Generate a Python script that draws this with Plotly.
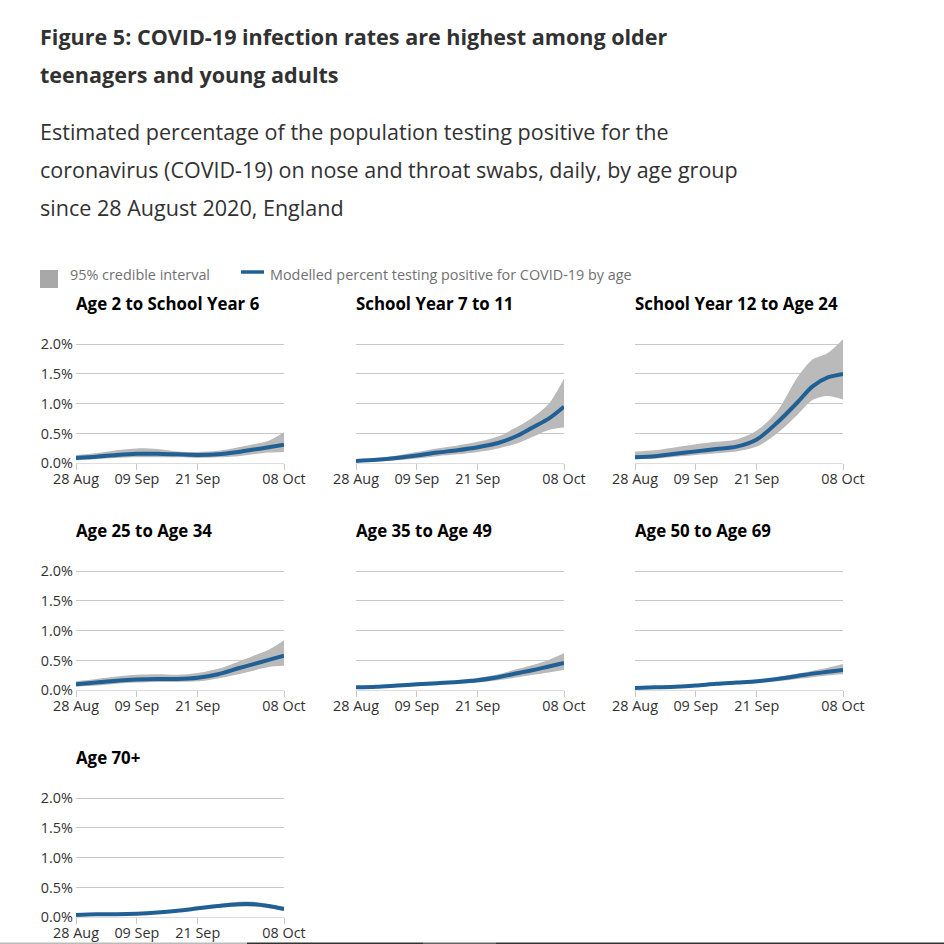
import plotly.graph_objects as go

dates = ["2020-08-28","2020-09-01","2020-09-05","2020-09-09","2020-09-13","2020-09-17",
         "2020-09-21","2020-09-25","2020-09-29","2020-10-02","2020-10-05","2020-10-08"]
panel_titles = ["Age 2 to School Year 6","School Year 7 to 11","School Year 12 to Age 24",
                "Age 25 to Age 34","Age 35 to Age 49","Age 50 to Age 69","Age 70+"]
mean_1 = [.09,.11,.14,.16,.16,.15,.14,.15,.19,.23,.27,.31]
upper_1 = [.14,.17,.22,.25,.24,.20,.19,.21,.27,.32,.38,.52]
lower_1 = [.05,.07,.09,.10,.10,.10,.09,.10,.12,.15,.18,.19]
mean_2 = [.04,.06,.09,.13,.18,.22,.27,.34,.47,.61,.75,.95]
upper_2 = [.05,.08,.13,.19,.25,.30,.36,.45,.62,.78,1.0,1.42]
lower_2 = [.02,.03,.05,.08,.12,.15,.19,.25,.34,.45,.56,.60]
mean_3 = [.10,.12,.16,.20,.24,.28,.40,.68,1.02,1.29,1.44,1.50]
upper_3 = [.20,.22,.27,.32,.36,.40,.55,.87,1.44,1.74,1.85,2.08]
lower_3 = [.07,.08,.11,.14,.17,.20,.28,.50,.81,1.06,1.13,1.07]
mean_4 = [.10,.13,.16,.18,.19,.19,.21,.27,.37,.44,.51,.58]
upper_4 = [.15,.19,.23,.26,.27,.26,.29,.36,.48,.58,.68,.84]
lower_4 = [.06,.08,.11,.13,.14,.14,.15,.20,.27,.33,.39,.41]
mean_5 = [.05,.06,.08,.10,.12,.14,.17,.22,.29,.34,.40,.46]
upper_5 = [.06,.07,.09,.12,.14,.17,.21,.27,.36,.43,.51,.62]
lower_5 = [.03,.04,.05,.07,.09,.11,.13,.17,.22,.26,.30,.34]
mean_6 = [.04,.05,.06,.08,.11,.13,.15,.19,.24,.28,.31,.34]
upper_6 = [.05,.06,.07,.09,.12,.15,.17,.22,.28,.33,.38,.44]
lower_6 = [.02,.03,.04,.06,.08,.10,.12,.15,.19,.22,.25,.27]
mean_7 = [.04,.05,.05,.06,.08,.11,.15,.19,.22,.22,.19,.14]
upper_7 = [.05,.06,.06,.07,.09,.12,.17,.22,.26,.26,.22,.18]
lower_7 = [.02,.03,.04,.05,.07,.09,.12,.16,.18,.18,.15,.11]
x_tick_vals = ["2020-08-28","2020-09-09","2020-09-21","2020-10-08"]
x_tick_text = ["28 Aug","09 Sep","21 Sep","08 Oct"]
y_tick_vals = [0,.5,1,1.5,2]
y_tick_text = ["0.0%","0.5%","1.0%","1.5%","2.0%"]
means = [mean_1,mean_2,mean_3,mean_4,mean_5,mean_6,mean_7]
uppers = [upper_1,upper_2,upper_3,upper_4,upper_5,upper_6,upper_7]
lowers = [lower_1,lower_2,lower_3,lower_4,lower_5,lower_6,lower_7]

W = H = 944
FONT = "Open Sans"
BLUE = "#206095"
GREY = "#bababa"
lefts = [76, 356, 635]
bottoms = [463.3, 690.3, 917.3]
PW, PPCT = 208, 59.6
YMAX = 2.1
SMOOTH = 0.85

fig = go.Figure()
layout = {}
ann = []
def text(x, y, s, size, color, bold=False):
    ann.append(dict(xref="paper", yref="paper", x=x/W, y=1-y/H, text=f"<b>{s}</b>" if bold else s,
                    showarrow=False, xanchor="left", yanchor="middle", align="left", xshift=-2,
                    font=dict(family=FONT, size=size, color=color)))

for i in range(7):
    r, c = i // 3, i % 3
    k = "" if i == 0 else str(i + 1)
    x0, y0 = lefts[c], bottoms[r]
    fig.add_trace(go.Scatter(x=dates, y=lowers[i], xaxis="x"+k, yaxis="y"+k, mode="lines",
                             line=dict(width=0, shape="spline", smoothing=SMOOTH, color=GREY), showlegend=False,
                             hoverinfo="skip", cliponaxis=False))
    fig.add_trace(go.Scatter(x=dates, y=uppers[i], xaxis="x"+k, yaxis="y"+k, mode="lines", fill="tonexty",
                             fillcolor=GREY, line=dict(width=0, shape="spline", smoothing=SMOOTH, color=GREY),
                             name="95% credible interval", showlegend=False, cliponaxis=False))
    fig.add_trace(go.Scatter(x=dates, y=means[i], xaxis="x"+k, yaxis="y"+k, mode="lines",
                             line=dict(width=4, shape="spline", smoothing=SMOOTH, color=BLUE),
                             name="Modelled percent testing positive for COVID-19 by age",
                             showlegend=False, cliponaxis=False))
    layout["xaxis"+k] = dict(domain=[x0/W, (x0+PW)/W], anchor="y"+k, range=["2020-08-28","2020-10-08"],
                             type="date", tickmode="array", tickvals=x_tick_vals, ticktext=x_tick_text,
                             ticks="outside", ticklen=6, tickcolor="#c8c8c8", showgrid=False, automargin=False,
                             showline=True, linecolor="#dddddd", linewidth=1, zeroline=False,
                             ticklabelstandoff=-4,
                             tickangle=0, tickfont=dict(family=FONT, size=14.4, color="#323132"))
    layout["yaxis"+k] = dict(domain=[1-y0/H, 1-(y0-PPCT*YMAX)/H], anchor="x"+k, range=[0, YMAX],
                             tickmode="array", tickvals=y_tick_vals, automargin=False,
                             ticktext=y_tick_text if c == 0 else [""]*5,
                             showgrid=True, gridcolor="#c8c8c8", gridwidth=1, zeroline=False, showline=False,
                             ticks="", ticklen=0, ticklabelstandoff=2,
                             tickfont=dict(family=FONT, size=14.4, color="#323132"))
    text(x0, y0-159.5, panel_titles[i], 16.85, "#000000", True)

text(40, 37, "Figure 5: COVID-19 infection rates are highest among older", 21.55, "#323132", True)
text(40, 75, "teenagers and young adults", 21.55, "#323132", True)
text(40, 132, "Estimated percentage of the population testing positive for the", 21.55, "#323132")
text(40, 170, "coronavirus (COVID-19) on nose and throat swabs, daily, by age group", 21.5, "#323132")
text(40, 208, "since 28 August 2020, England", 21.55, "#323132")
text(70, 274, "95% credible interval", 14.4, "#707071")
text(270, 274, "Modelled percent testing positive for COVID-19 by age", 14.4, "#707071")

def bar(x0, x1, color):
    return dict(type="line", xref="paper", yref="paper", x0=x0/W, x1=x1/W, y0=0.7/H, y1=0.7/H,
                line=dict(color=color, width=1.5))
shapes = [
    dict(type="rect", xref="paper", yref="paper", x0=40/W, x1=58/W, y0=1-288/H, y1=1-270/H,
         fillcolor="#a8a8a8", line_width=0),
    dict(type="line", xref="paper", yref="paper", x0=241/W, x1=264/W, y0=1-272/H, y1=1-272/H,
         line=dict(color=BLUE, width=3.5)),
    bar(0, 247, "#bbbbbb"), bar(247, 423, "#333333"), bar(423, 496, "#666666"), bar(496, 944, "#333333"),
]
fig.update_layout(width=W, height=H, autosize=False, margin=dict(l=0, r=0, t=0, b=0),
                  paper_bgcolor="white", plot_bgcolor="white", showlegend=False,
                  annotations=ann, shapes=shapes, **layout)
fig.write_html("out.html", post_script="document.body.style.margin='0';document.documentElement.style.overflow='hidden';",
               config=dict(displayModeBar=False))
